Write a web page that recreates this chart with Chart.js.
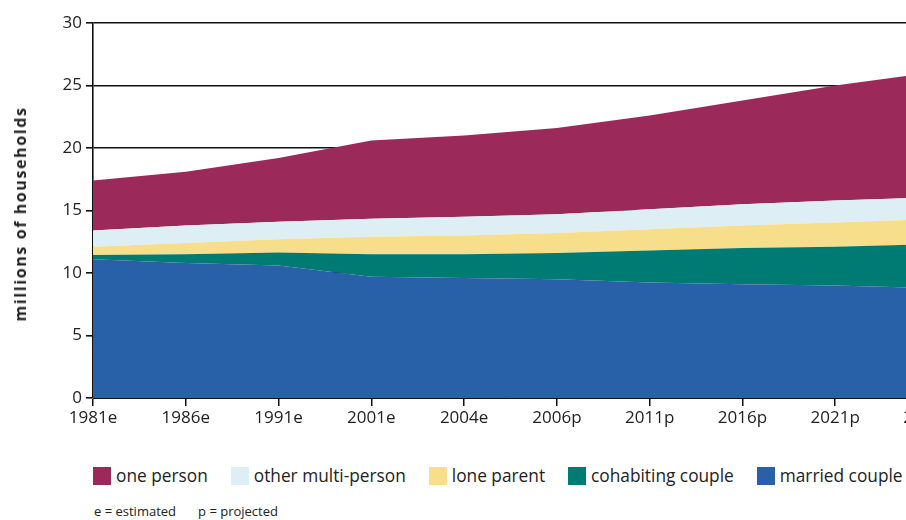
<!DOCTYPE html>
<html>
<head>
<meta charset="utf-8">
<script src="https://cdn.jsdelivr.net/npm/chart.js@4"></script>
<style>
    html, body { margin: 0; padding: 0; background: #fff; overflow: hidden; width: 906px; height: 520px; }
    #wrap { position: relative; width: 980px; height: 440px; }
    #titulo-y { position: absolute; left: 20px; top: 214px; transform: translate(-50%, -50%) rotate(-90deg); white-space: nowrap;
        font-family: "Open Sans", sans-serif; font-size: 16px; font-weight: bold; letter-spacing: 1.6px; color: #222; }
    #legenda { position: absolute; left: 93px; top: 464px; width: 900px; display: flex; white-space: nowrap; font-family: "Open Sans", sans-serif; font-size: 17.3px; color: #222; }
    .item { display: flex; align-items: center; margin-right: 23px; flex-shrink: 0; }
    .caixa { width: 18px; height: 18px; margin-right: 5px; }
    #nota { position: absolute; left: 94px; top: 502px; white-space: nowrap; font-family: "Open Sans", sans-serif; font-size: 13px; color: #222; }
    #nota span { margin-right: 22px; }
</style>
</head>
<body>
<div id="wrap"><canvas id="grafico" width="980" height="440"></canvas></div>
<div id="titulo-y">millions of households</div>
<div id="legenda"></div>
<div id="nota"><span>e = estimated</span><span>p = projected</span></div>
<script>
const anos = ['1981e', '1986e', '1991e', '2001e', '2004e', '2006p', '2011p', '2016p', '2021p', '2026p'];

const casados = [11.1, 10.8, 10.6, 9.7, 9.6, 9.5, 9.25, 9.1, 9.0, 8.8];
const coabitando = [0.35, 0.7, 1.05, 1.8, 1.9, 2.1, 2.55, 2.9, 3.1, 3.5];
const paiSolteiro = [0.65, 0.9, 1.05, 1.4, 1.5, 1.6, 1.7, 1.8, 1.95, 2.0];
const outrosMulti = [1.3, 1.4, 1.4, 1.45, 1.5, 1.5, 1.6, 1.7, 1.75, 1.75];
const umaPessoa = [4.0, 4.3, 5.1, 6.25, 6.5, 6.9, 7.5, 8.3, 9.2, 9.95];

const yTicks = [0, 5, 10, 15, 20, 25, 30];

const series = [
    { label: 'married couple', data: casados, cor: '#2961a8' },
    { label: 'cohabiting couple', data: coabitando, cor: '#007b73' },
    { label: 'lone parent', data: paiSolteiro, cor: '#f7de8b' },
    { label: 'other multi-person', data: outrosMulti, cor: '#ddeef5' },
    { label: 'one person', data: umaPessoa, cor: '#9b2a5a' }
];

function criarGrafico() {
    const ctx = document.getElementById('grafico').getContext('2d');
    const fonte = { family: '"Open Sans", sans-serif', size: 17 };

    window.grafico = new Chart(ctx, {
        type: 'line',
        data: {
            labels: anos,
            datasets: series.map((s, i) => ({
                label: s.label,
                data: s.data,
                backgroundColor: s.cor,
                borderColor: s.cor,
                borderWidth: 0,
                pointRadius: 0,
                tension: 0,
                fill: i === 0 ? 'origin' : '-1'
            }))
        },
        options: {
            responsive: false,
            animation: false,
            layout: { padding: { top: 23, right: 52, left: 0, bottom: 0 } },
            plugins: {
                legend: { display: false },
                tooltip: { enabled: false }
            },
            scales: {
                x: {
                    offset: false,
                    grid: { display: true, drawOnChartArea: false, drawTicks: true, tickLength: 8, color: '#111', lineWidth: 1.5 },
                    border: { display: true, color: '#111', width: 1 },
                    ticks: { color: '#222', font: fonte, maxRotation: 0, autoSkip: false, padding: 2 },
                    afterFit: s => { s.height = 42; }
                },
                y: {
                    stacked: true,
                    min: 0,
                    max: 30,
                    afterBuildTicks: s => { s.ticks = yTicks.map(v => ({ value: v })); },
                    grid: { color: '#111', lineWidth: 1.6, tickLength: 7 },
                    border: { display: true, color: '#111', width: 1.6 },
                    ticks: { color: '#222', font: fonte, padding: 4 },
                    afterFit: s => { s.width = 93; }
                }
            }
        }
    });
}

function criarLegenda() {
    const legenda = document.getElementById('legenda');
    series.slice().reverse().forEach(s => {
        const item = document.createElement('div');
        item.className = 'item';
        item.innerHTML = `<span class="caixa" style="background:${s.cor}"></span><span>${s.label}</span>`;
        legenda.appendChild(item);
    });
}

window.addEventListener('DOMContentLoaded', () => {
    criarGrafico();
    criarLegenda();
});
</script>
</body>
</html>
